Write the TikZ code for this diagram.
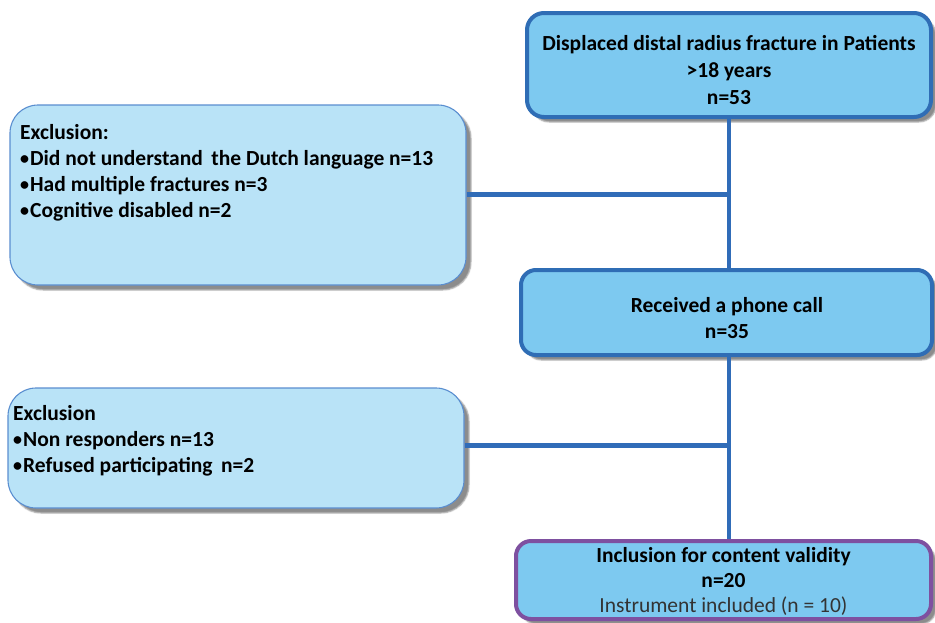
\documentclass[tikz,border=0pt]{standalone}
\usepackage{fontspec}
\setmainfont{Carlito}
\usetikzlibrary{shadows.blur}
\definecolor{mainfill}{HTML}{7DC9F0}
\definecolor{mainline}{HTML}{2F6DB5}
\definecolor{exfill}{HTML}{B9E3F7}
\definecolor{exline}{HTML}{5A8ED0}
\definecolor{incline}{HTML}{7E50A0}
\definecolor{linkcol}{HTML}{306CB8}
\newcommand{\bul}{{\fontsize{18}{26}\selectfont\raisebox{1pt}{•}}\kern1pt}
\tikzset{
  x=1pt, y=-1pt,
  shade/.style={blur shadow={shadow xshift=5pt, shadow yshift=-5pt, shadow blur steps=3, shadow blur radius=1.2pt, shadow opacity=45}},
  mainbox/.style={shade, draw=mainline, line width=4pt, fill=mainfill, rounded corners=17pt, inner sep=0pt},
  exbox/.style={shade, draw=exline, line width=1.1pt, fill=exfill, rounded corners=28pt, inner sep=0pt},
  incbox/.style={mainbox, draw=incline, rounded corners=15pt},
  txt/.style={font=\bfseries\fontsize{21.5}{26}\selectfont, align=center, inner sep=0pt},
  extxt/.style={font=\bfseries\fontsize{21.5}{26}\selectfont, align=left, anchor=north west, inner sep=0pt},
  link/.style={draw=linkcol, line width=4.5pt}
}
\begin{document}
\begin{tikzpicture}
\useasboundingbox (0,0) rectangle (935,622);

% boxes
\node[mainbox, minimum width=404pt, minimum height=104pt] (top) at (729,65) {};
\node[exbox, minimum width=456pt, minimum height=180pt] (ex1) at (238,195) {};
\node[mainbox, rounded corners=15pt, minimum width=411pt, minimum height=85pt] (phone) at (726.5,312.5) {};
\node[exbox, minimum width=456pt, minimum height=120pt] (ex2) at (236,448) {};
\node[incbox, minimum width=415pt, minimum height=78pt] (inc) at (723.5,580) {};

% connectors
\draw[link] (top.south -| 729,0) -- (729,0 |- phone.north);
\draw[link] (phone.south -| 729,0) -- (729,0 |- inc.north);
\draw[link] (ex1.east) ++(0,-0.5) -- (729,194.5);
\draw[link] (ex2.east) ++(0,-2.5) -- (729,445.5);

% texts
\node[txt, font=\bfseries\fontsize{21.5}{27}\selectfont] (toptxt) at (729,70) {Displaced distal radius fracture in Patients\\ {>}18 years\\ n=53};
\node[txt] (phonetxt) at (727,318) {Received a phone call\\ n=35};
\node[txt, font=\bfseries\fontsize{21.5}{25}\selectfont] (inctxt) at (723.5,581) {Inclusion for content validity\\ n=20\\ {\mdseries\color{black!80}Instrument included (n = 10)}};
\node[extxt] (ex1txt) at (20,124) {Exclusion:\\ \bul Did not understand\, the Dutch language n=13\\ \bul Had multiple fractures n=3\\ \bul Cognitive disabled n=2};
\node[extxt] (ex2txt) at (13,405) {Exclusion\\ \bul Non responders n=13\\ \bul Refused participating\, n=2};
\end{tikzpicture}
\end{document}
